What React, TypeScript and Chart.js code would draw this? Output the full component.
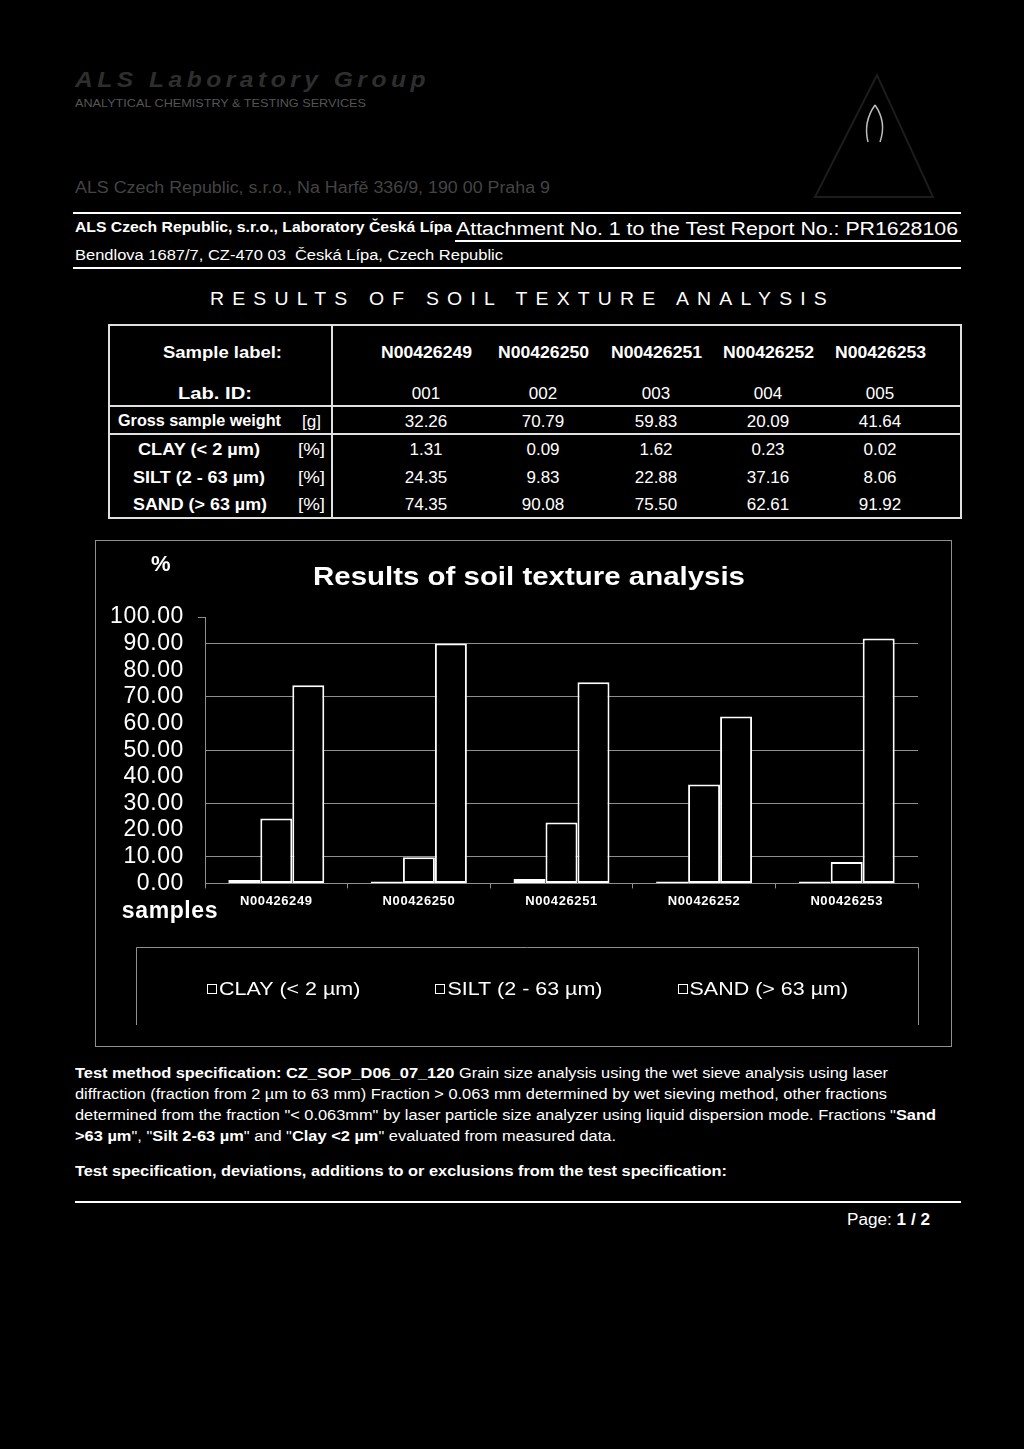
import React, { useEffect, useLayoutEffect, useRef } from "react";
import { Chart, registerables } from "chart.js";

Chart.register(...registerables);

// ---------------- data ----------------
const SAMPLES = ["N00426249", "N00426250", "N00426251", "N00426252", "N00426253"];
const LAB_IDS = ["001", "002", "003", "004", "005"];
const GROSS_WEIGHT = [32.26, 70.79, 59.83, 20.09, 41.64];
const CLAY = [1.31, 0.09, 1.62, 0.23, 0.02];
const SILT = [24.35, 9.83, 22.88, 37.16, 8.06];
const SAND = [74.35, 90.08, 75.5, 62.61, 91.92];
const SERIES_LABELS = ["CLAY (< 2 µm)", "SILT (2 - 63 µm)", "SAND (> 63 µm)"];
const ROW_LABELS = ["CLAY (< 2 µm)", "SILT (2 - 63 µm)", "SAND (> 63 µm)"];
const Y_MIN = 0;
const Y_MAX = 100;
const Y_STEP = 10;
const CHART_TITLE = "Results of soil texture analysis";

const FONT = "'Liberation Sans', Arial, Helvetica, sans-serif";
const GRAY = "#8f8f8f";

// ---------------- helpers ----------------
type TProps = {
  x: number;
  y: number;
  size: number;
  bold?: boolean;
  italic?: boolean;
  align?: "left" | "center";
  color?: string;
  spacing?: number;
  w?: number;
  children: React.ReactNode;
};

function T({ x, y, size, bold, italic, align = "left", color = "#fff", spacing, w, children }: TProps) {
  const ref = useRef<HTMLDivElement | null>(null);
  useLayoutEffect(() => {
    const el = ref.current;
    if (!el || !w) return;
    const fit = () => {
      el.style.transform = "none";
      const nat = el.getBoundingClientRect().width;
      if (nat > 0) el.style.transform = `scaleX(${w / nat})`;
    };
    fit();
    if ((document as any).fonts && (document as any).fonts.ready) (document as any).fonts.ready.then(fit);
  }, [w]);
  const style: React.CSSProperties = {
    position: "absolute",
    top: y - size / 2,
    left: w ? (align === "center" ? x - w / 2 : x) : x,
    fontSize: size,
    lineHeight: 1,
    fontWeight: bold ? "bold" : "normal",
    fontStyle: italic ? "italic" : "normal",
    whiteSpace: "nowrap",
    color,
    letterSpacing: spacing,
    transformOrigin: "left center",
  };
  if (!w && align === "center") style.transform = "translateX(-50%)";
  return (
    <div ref={ref} style={style}>
      {children}
    </div>
  );
}

function HLine({ x, y, w, h = 2, color = "#fff" }: { x: number; y: number; w: number; h?: number; color?: string }) {
  return <div style={{ position: "absolute", left: x, top: y, width: w, height: h, background: color }} />;
}
function VLine({ x, y, h, w = 2, color = "#fff" }: { x: number; y: number; h: number; w?: number; color?: string }) {
  return <div style={{ position: "absolute", left: x, top: y, width: w, height: h, background: color }} />;
}

// ---------------- chart ----------------
const setSpacing = (chart: any) => {
  chart.ctx.letterSpacing = "0.6px";
};

const extraTextPlugin = {
  id: "extraText",
  beforeLayout: setSpacing,
  beforeDraw: setSpacing,
  afterDraw(chart: any) {
    const ctx = chart.ctx as CanvasRenderingContext2D;
    const a = chart.chartArea;
    ctx.save();
    (ctx as any).letterSpacing = "0px";
    ctx.fillStyle = "#fff";
    ctx.textBaseline = "middle";

    // chart title (stretched horizontally like the source)
    ctx.font = `bold 25px ${FONT}`;
    const tw = ctx.measureText(CHART_TITLE).width;
    const titleW = 432;
    ctx.save();
    ctx.translate(a.left + 108, a.top - 39);
    ctx.scale(titleW / tw, 1);
    ctx.textAlign = "left";
    ctx.fillText(CHART_TITLE, 0, 0);
    ctx.restore();

    ctx.textAlign = "center";
    (ctx as any).letterSpacing = "0.6px";
    ctx.font = `bold 22px ${FONT}`;
    ctx.fillText("%", a.left - 44, a.top - 52);
    ctx.font = `bold 23px ${FONT}`;
    ctx.fillText("samples", a.left - 35, a.bottom + 28);
    (ctx as any).letterSpacing = "0px";

    // legend frame (open at the bottom)
    const left = Math.round(a.left - 69) + 0.5;
    const right = Math.round(a.right) + 0.5;
    const top = Math.round(a.bottom + 64) + 0.5;
    const bottom = Math.round(a.bottom + 142);
    ctx.strokeStyle = GRAY;
    ctx.lineWidth = 1;
    ctx.beginPath();
    ctx.moveTo(left, bottom);
    ctx.lineTo(left, top);
    ctx.lineTo(right, top);
    ctx.lineTo(right, bottom);
    ctx.stroke();

    // legend items
    ctx.font = `19px ${FONT}`;
    const stretch = 1.13;
    const box = 9;
    const boxGap = 3;
    const gap = 75;
    const labels = chart.data.datasets.map((d: any) => d.label as string);
    const tws = labels.map((l: string) => ctx.measureText(l).width * stretch);
    const widths = tws.map((t: number) => box + boxGap + t);
    const total = widths.reduce((s: number, v: number) => s + v, 0) + gap * (labels.length - 1);
    let x = (left + right) / 2 - total / 2;
    const cy = top + 41;
    ctx.textAlign = "left";
    labels.forEach((l: string, i: number) => {
      const bx = Math.round(x) + 0.5;
      const by = Math.round(cy - box / 2) + 0.5;
      ctx.fillStyle = "#000";
      ctx.fillRect(bx, by, box, box);
      ctx.strokeStyle = "#fff";
      ctx.strokeRect(bx, by, box, box);
      ctx.fillStyle = "#fff";
      ctx.save();
      ctx.translate(x + box + boxGap, cy + 1);
      ctx.scale(stretch, 1);
      ctx.fillText(l, 0, 0);
      ctx.restore();
      x += widths[i] + gap;
    });
    ctx.restore();
  },
};

function SoilChart() {
  const ref = useRef<HTMLCanvasElement | null>(null);
  useEffect(() => {
    if (!ref.current) return;
    const ds = (label: string, data: number[]) => ({
      label,
      data,
      backgroundColor: "#000",
      borderColor: "#fff",
      borderWidth: 2,
      borderSkipped: false as any,
      minBarLength: 2,
      barPercentage: 1,
      categoryPercentage: 0.673,
    });
    const chart = new Chart(ref.current, {
      type: "bar",
      data: {
        labels: SAMPLES,
        datasets: [ds(SERIES_LABELS[0], CLAY), ds(SERIES_LABELS[1], SILT), ds(SERIES_LABELS[2], SAND)],
      },
      options: {
        animation: false,
        responsive: false,
        devicePixelRatio: 1,
        layout: { padding: { left: 0, right: 34, top: 77, bottom: 133 } },
        plugins: {
          legend: { display: false },
          tooltip: { enabled: false },
          title: { display: false },
        },
        scales: {
          x: {
            grid: { offset: true, drawOnChartArea: false, tickLength: 5, tickColor: GRAY, color: GRAY },
            border: { color: GRAY, width: 1 },
            ticks: {
              color: "#fff",
              font: { family: FONT, size: 13, weight: "bold" },
              padding: 5,
              maxRotation: 0,
              autoSkip: false,
            },
          },
          y: {
            min: Y_MIN,
            max: Y_MAX,
            afterFit: (s: any) => {
              s.width = 110;
            },
            ticks: {
              stepSize: Y_STEP,
              autoSkip: false,
              color: "#fff",
              font: { family: FONT, size: 23 },
              padding: 14,
              callback: (v: any) => Number(v).toFixed(2),
            },
            grid: {
              color: (c: any) => (c.tick && c.tick.value % 20 === 10 ? GRAY : "rgba(0,0,0,0)"),
              tickColor: (c: any) => (c.tick && c.tick.value === 100 ? GRAY : "rgba(0,0,0,0)"),
              tickLength: 7,
            },
            border: { color: GRAY, width: 1 },
          },
        },
      } as any,
      plugins: [extraTextPlugin],
    });
    return () => chart.destroy();
  }, []);
  return <canvas ref={ref} width={857} height={507} style={{ display: "block", width: 857, height: 507 }} />;
}

// ---------------- page ----------------
const COL_X = [426, 543, 656, 768, 880];

export default function App() {
  useEffect(() => {
    document.body.style.margin = "0";
    document.body.style.background = "#000";
  }, []);
  const fix = (v: number) => v.toFixed(2);
  const rows = [CLAY, SILT, SAND];
  const rowY = [449, 477, 504];
  const rowLabelX = [138, 133, 133];
  const rowLabelW = [122, 132, 134];
  return (
    <div
      style={{
        position: "absolute",
        left: 0,
        top: 0,
        width: 1024,
        height: 1449,
        background: "#000",
        color: "#fff",
        fontFamily: FONT,
        overflow: "hidden",
      }}
    >
      {/* faint letterhead */}
      <T x={75} y={80} size={22} bold italic color="#2e2e2e" spacing={4} w={355}>
        ALS Laboratory Group
      </T>
      <T x={75} y={103} size={11} color="#555" w={291}>
        ANALYTICAL CHEMISTRY &amp; TESTING SERVICES
      </T>
      <T x={75} y={188} size={16} color="#444" w={475}>
        ALS Czech Republic, s.r.o., Na Harfě 336/9, 190 00 Praha 9
      </T>
      <svg style={{ position: "absolute", left: 800, top: 60 }} width={160} height={150}>
        <path d="M77,15 L15,137 L133,137 Z" fill="none" stroke="#1c1c1c" strokeWidth={2} />
        <path d="M75,45 Q63,62 68,82 M75,45 Q87,62 80,82" fill="none" stroke="#bdbdbd" strokeWidth={1.5} />
      </svg>

      {/* header */}
      <HLine x={73} y={212} w={888} />
      <T x={75} y={227} size={14} bold w={377}>
        ALS Czech Republic, s.r.o., Laboratory Česká Lípa
      </T>
      <T x={456} y={229} size={18} w={502}>
        Attachment No. 1 to the Test Report No.: PR1628106
      </T>
      <HLine x={455} y={240} w={506} />
      <T x={75} y={255} size={14} w={428}>
        Bendlova 1687/7, CZ-470 03&nbsp;&nbsp;Česká Lípa, Czech Republic
      </T>
      <HLine x={73} y={267} w={888} />

      <T x={210} y={298} size={19} spacing={8} w={625}>
        RESULTS OF SOIL TEXTURE ANALYSIS
      </T>

      {/* table */}
      <div
        style={{
          position: "absolute",
          left: 108,
          top: 324,
          width: 854,
          height: 195,
          border: "2px solid #e0e0e0",
          boxSizing: "border-box",
        }}
      />
      <VLine x={331} y={324} h={195} color="#e0e0e0" />
      <HLine x={108} y={405} w={854} color="#e0e0e0" />
      <HLine x={108} y={433} w={854} color="#e0e0e0" />

      <T x={163} y={352} size={17} bold w={119}>
        Sample label:
      </T>
      <T x={178} y={393} size={17} bold w={74}>
        Lab. ID:
      </T>
      <T x={118} y={421} size={16} bold w={163}>
        Gross sample weight
      </T>
      <T x={302} y={421} size={17} w={19}>
        [g]
      </T>
      {ROW_LABELS.map((l, i) => (
        <React.Fragment key={l}>
          <T x={rowLabelX[i]} y={rowY[i]} size={17} bold w={rowLabelW[i]}>
            {l}
          </T>
          <T x={298} y={rowY[i]} size={17} w={27}>
            [%]
          </T>
        </React.Fragment>
      ))}
      {SAMPLES.map((s, j) => (
        <React.Fragment key={s}>
          <T x={COL_X[j]} y={352} size={17} bold align="center" w={91}>
            {s}
          </T>
          <T x={COL_X[j]} y={393} size={17} align="center">
            {LAB_IDS[j]}
          </T>
          <T x={COL_X[j]} y={421} size={17} align="center">
            {fix(GROSS_WEIGHT[j])}
          </T>
          {rows.map((r, i) => (
            <T key={i} x={COL_X[j]} y={rowY[i]} size={17} align="center">
              {fix(r[j])}
            </T>
          ))}
        </React.Fragment>
      ))}

      {/* chart frame */}
      <div
        style={{
          position: "absolute",
          left: 95,
          top: 540,
          width: 857,
          height: 507,
          border: `1px solid ${GRAY}`,
          boxSizing: "border-box",
        }}
      />
      <div style={{ position: "absolute", left: 95, top: 540, width: 857, height: 507 }}>
        <SoilChart />
      </div>

      {/* method text */}
      <T x={75} y={1073} size={14} w={813}>
        <b>Test method specification: CZ_SOP_D06_07_120</b> Grain size analysis using the wet sieve analysis using laser
      </T>
      <T x={75} y={1094} size={14} w={812}>
        diffraction (fraction from 2 µm to 63 mm) Fraction &gt; 0.063 mm determined by wet sieving method, other fractions
      </T>
      <T x={75} y={1115} size={14} w={861}>
        determined from the fraction "&lt; 0.063mm" by laser particle size analyzer using liquid dispersion mode. Fractions "
        <b>Sand</b>
      </T>
      <T x={75} y={1136} size={14} w={541}>
        <b>&gt;63 µm</b>", "<b>Silt 2-63 µm</b>" and "<b>Clay &lt;2 µm</b>" evaluated from measured data.
      </T>
      <T x={75} y={1171} size={14} bold w={652}>
        Test specification, deviations, additions to or exclusions from the test specification:
      </T>

      <HLine x={75} y={1201} w={886} />
      <T x={847} y={1220} size={16} w={83}>
        Page: <b>1 / 2</b>
      </T>
    </div>
  );
}
